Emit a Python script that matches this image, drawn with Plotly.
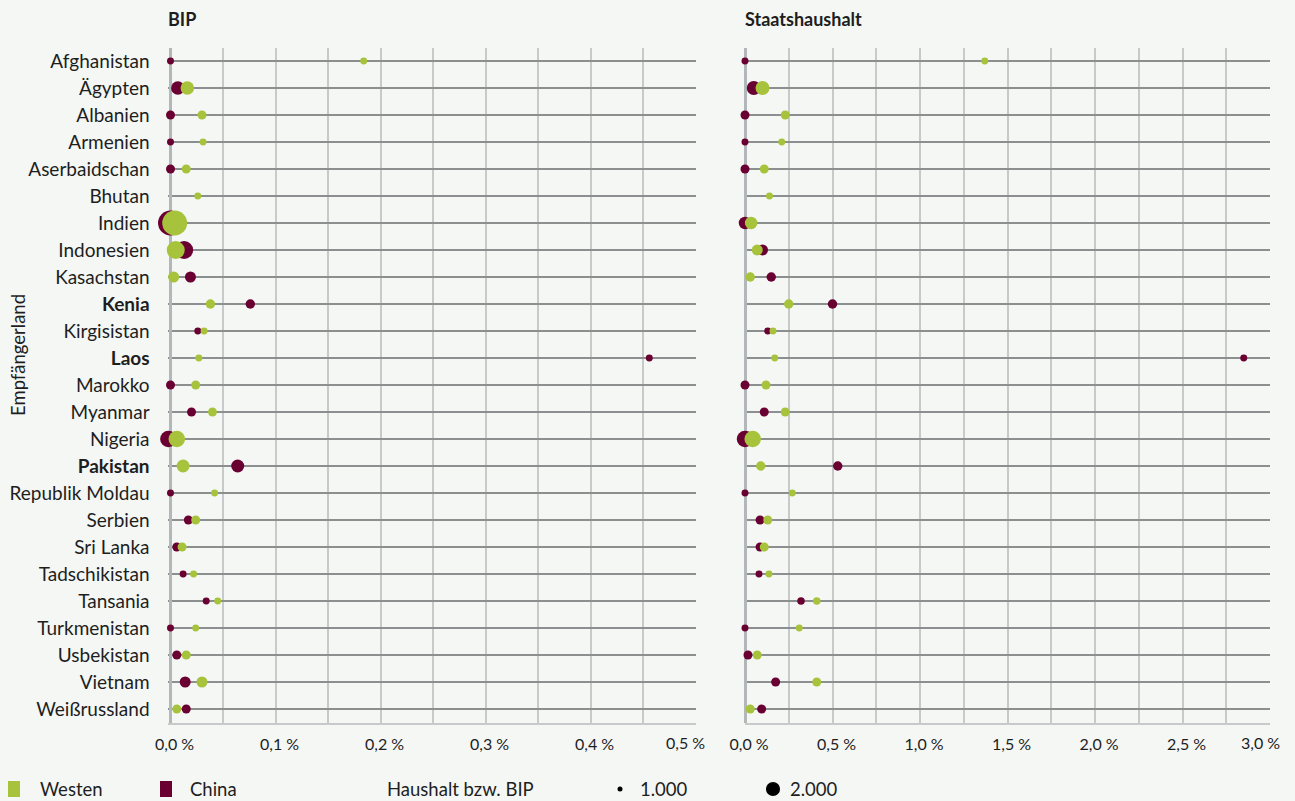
import plotly.graph_objects as go

# ---------------- data ----------------
countries = ["Afghanistan", "Ägypten", "Albanien", "Armenien", "Aserbaidschan", "Bhutan",
             "Indien", "Indonesien", "Kasachstan", "Kenia", "Kirgisistan", "Laos", "Marokko",
             "Myanmar", "Nigeria", "Pakistan", "Republik Moldau", "Serbien", "Sri Lanka",
             "Tadschikistan", "Tansania", "Turkmenistan", "Usbekistan", "Vietnam", "Weißrussland"]
bold_countries = ["Kenia", "Laos", "Pakistan"]

# share of GDP (%)
bip_westen = [0.184, 0.016, 0.030, 0.031, 0.015, 0.026, 0.004, 0.005, 0.003, 0.038, 0.032, 0.027, 0.024,
              0.040, 0.006, 0.012, 0.042, 0.024, 0.011, 0.022, 0.045, 0.024, 0.015, 0.030, 0.006]
bip_china = [0.0, 0.007, 0.0, 0.0, 0.0, None, 0.0, 0.013, 0.019, 0.076, 0.026, 0.456, 0.0,
             0.020, -0.002, 0.064, 0.0, 0.017, 0.006, 0.012, 0.034, 0.0, 0.006, 0.014, 0.015]
bip_groesse = [1250, 1940, 1480, 1250, 1480, 1250, 2920, 2350, 1690, 1530, 1250, 1250, 1480,
               1480, 2220, 1890, 1250, 1480, 1480, 1250, 1250, 1250, 1480, 1690, 1480]

# share of state budget (%)
haushalt_westen = [1.37, 0.10, 0.23, 0.21, 0.11, 0.14, 0.035, 0.07, 0.03, 0.25, 0.16, 0.17, 0.12,
                   0.23, 0.044, 0.09, 0.27, 0.13, 0.11, 0.137, 0.41, 0.31, 0.07, 0.41, 0.03]
haushalt_china = [0.0, 0.05, 0.0, 0.0, 0.0, None, 0.0, 0.10, 0.15, 0.50, 0.13, 2.85, 0.0,
                  0.11, 0.0, 0.53, 0.0, 0.086, 0.086, 0.08, 0.32, 0.0, 0.017, 0.175, 0.095]
haushalt_groesse = [1250, 1990, 1480, 1250, 1480, 1250, 1840, 1690, 1530, 1530, 1250, 1250, 1480,
                    1480, 2220, 1530, 1250, 1480, 1480, 1250, 1310, 1250, 1480, 1480, 1480]

bip_ticks = [0.0, 0.1, 0.2, 0.3, 0.4, 0.5]
bip_grid_step = 0.05
haushalt_ticks = [0.0, 0.5, 1.0, 1.5, 2.0, 2.5, 3.0]
haushalt_grid_step = 0.25
size_legend = [1000, 2000]

# ---------------- style ----------------
W, H = 1295, 801
GREEN = "#a7c33b"
MAROON = "#6a0032"
BG = "#f4f7f4"
ROWLINE = "#8c8f90"
GRID = "#c6cacb"
ZERO = "#b2b7b9"
TEXT = "#1e1e1e"
FONT = "Lato"
FS = 19
LFS = 18.5
TFS = 16


def diam(v):
    return 5 * (v / 1000) ** 1.5


def fmt(v):
    return f"{v:.1f}".replace(".", ",") + "\u202f%"


def fx(p):
    return p / W


def fy(p):
    return 1 - p / H


def grid_ticks(ticks, step):
    """Grid every `step`; labels on `ticks` (the last one is drawn separately, kept inside the panel)."""
    vals, texts = [], []
    n = int(round((ticks[-1] - ticks[0]) / step))
    for i in range(n + 1):
        v = round(ticks[0] + i * step, 4)
        vals.append(v)
        if i < n and any(abs(v - t) < 1e-9 for t in ticks):
            texts.append(fmt(v))
        else:
            texts.append("")
    return vals, texts


fig = go.Figure()

panels = [
    ("x", "y", bip_china, bip_westen, bip_groesse),
    ("x2", "y2", haushalt_china, haushalt_westen, haushalt_groesse),
]
for xa, ya, china, west, size in panels:
    sizes = [diam(s) for s in size]
    fig.add_trace(go.Scatter(x=china, y=countries, mode="markers", name="China",
                             marker=dict(color=MAROON, size=sizes, line=dict(width=0), opacity=1),
                             xaxis=xa, yaxis=ya, cliponaxis=False, showlegend=False))
    fig.add_trace(go.Scatter(x=west, y=countries, mode="markers", name="Westen",
                             marker=dict(color=GREEN, size=sizes, line=dict(width=0), opacity=1),
                             xaxis=xa, yaxis=ya, cliponaxis=False, showlegend=False))

ytext = [f"<b>{c}</b>" if c in bold_countries else c for c in countries]
ydom = [fy(722.5), fy(47.5)]

bv, bt = grid_ticks(bip_ticks, bip_grid_step)
hv, ht = grid_ticks(haushalt_ticks, haushalt_grid_step)

# left panel: 0.1 % = 105 px, zero at x = 170.5 px; tiny negative margin keeps values just below 0 visible
BIP_PAD = 0.0028
X0_LEFT = 170.5 - BIP_PAD * 1050

xcommon = dict(showgrid=True, gridcolor=GRID, gridwidth=1.5, zeroline=True, zerolinecolor=ZERO,
               zerolinewidth=2.5, showline=True, linecolor=GRID, linewidth=1.5, ticks="",
               tickmode="array", tickfont=dict(family=FONT, size=TFS, color=TEXT),
               ticklabelstandoff=7, ticklabelshift=4,
               automargin=False, fixedrange=True)
ycommon = dict(type="category", categoryorder="array", categoryarray=countries,
               range=[len(countries) - 0.5, -0.5], showgrid=True, gridcolor=ROWLINE, gridwidth=1.5,
               zeroline=False, showline=False, ticks="", domain=ydom, automargin=False,
               fixedrange=True)

fig.update_layout(
    width=W, height=H,
    margin=dict(l=0, r=0, t=0, b=0),
    paper_bgcolor=BG, plot_bgcolor=BG,
    font=dict(family=FONT, size=FS, color=TEXT),
    xaxis=dict(domain=[fx(X0_LEFT), fx(695.5)], range=[bip_ticks[0] - BIP_PAD, bip_ticks[-1]],
               tickvals=bv, ticktext=bt, anchor="y", **xcommon),
    xaxis2=dict(domain=[fx(745), fx(1270)], range=[haushalt_ticks[0], haushalt_ticks[-1]],
                tickvals=hv, ticktext=ht, anchor="y2", **xcommon),
    yaxis=dict(anchor="x", tickvals=countries, ticktext=ytext, ticklabelstandoff=17,
               tickfont=dict(family=FONT, size=FS, color=TEXT), **ycommon),
    yaxis2=dict(anchor="x2", showticklabels=False, **ycommon),
    showlegend=False,
)

# last tick label of each panel, right-aligned just past the panel edge
for xr, ticks, shift in [("x", bip_ticks, 11), ("x2", haushalt_ticks, 12)]:
    fig.add_annotation(text=fmt(ticks[-1]), xref=xr, yref="paper", x=ticks[-1], y=fy(742),
                       xanchor="right", yanchor="middle", xshift=shift, showarrow=False,
                       font=dict(family=FONT, size=TFS, color=TEXT))

ann = [
    dict(text="<b>BIP</b>", x=fx(166), y=fy(19), size=18),
    dict(text="<b>Staatshaushalt</b>", x=fx(743), y=fy(19), size=18),
    dict(text="Westen", x=fx(38), y=fy(789), size=LFS),
    dict(text="China", x=fx(188), y=fy(789), size=LFS),
    dict(text="Haushalt bzw. BIP", x=fx(385), y=fy(789), size=LFS),
    dict(text=f"{size_legend[0]:,}".replace(",", "."), x=fx(638), y=fy(789), size=LFS),
    dict(text=f"{size_legend[1]:,}".replace(",", "."), x=fx(788), y=fy(789), size=LFS),
]
for a in ann:
    s = a.pop("size")
    fig.add_annotation(xref="paper", yref="paper", xanchor="left", yanchor="middle",
                       showarrow=False, font=dict(family=FONT, size=s, color=TEXT), **a)
fig.add_annotation(text="Empfängerland", xref="paper", yref="paper", x=fx(18), y=fy(355),
                   textangle=-90, showarrow=False, xanchor="center", yanchor="middle",
                   font=dict(family=FONT, size=LFS, color=TEXT))

# legend swatches
fig.add_shape(type="rect", xref="paper", yref="paper", x0=fx(8), x1=fx(20), y0=fy(797), y1=fy(781),
              fillcolor=GREEN, line=dict(width=0))
fig.add_shape(type="rect", xref="paper", yref="paper", x0=fx(160), x1=fx(172), y0=fy(797), y1=fy(781),
              fillcolor=MAROON, line=dict(width=0))
for cx, v in [(620, size_legend[0]), (773, size_legend[1])]:
    r = diam(v) / 2
    fig.add_shape(type="circle", xref="paper", yref="paper", x0=fx(cx - r), x1=fx(cx + r),
                  y0=fy(789 + r), y1=fy(789 - r), fillcolor="black", line=dict(width=0))

fig.write_html("out.html", config={"displayModeBar": False},
               post_script="document.body.style.margin='0';document.body.style.background='%s';" % BG)
